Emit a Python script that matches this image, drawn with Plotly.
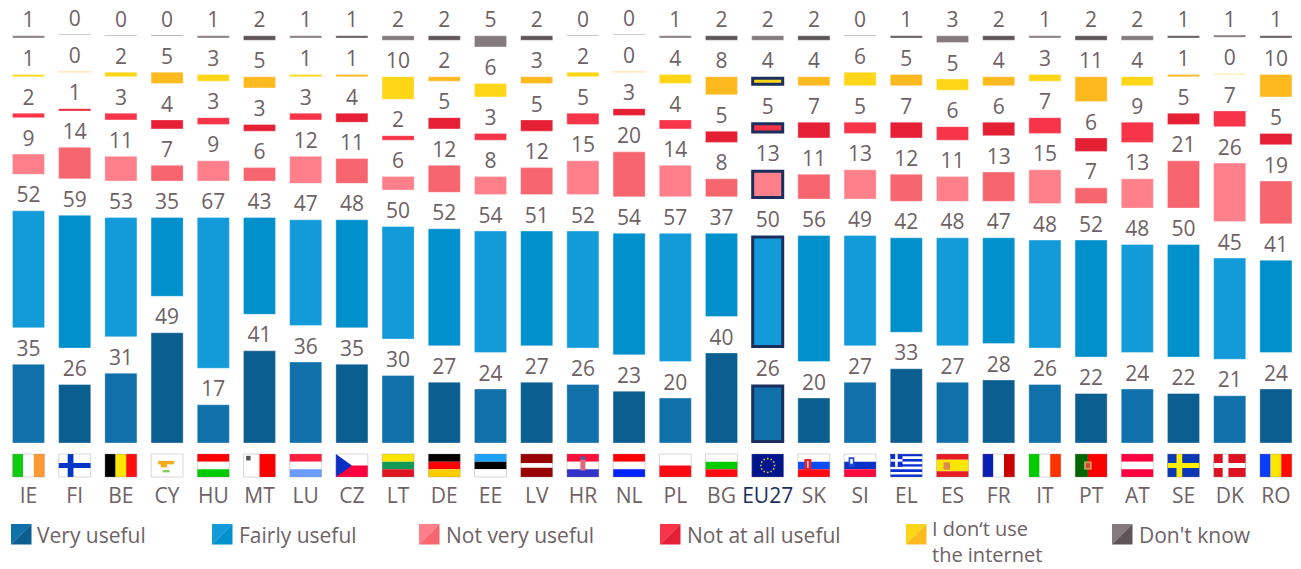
import math
import plotly.graph_objects as go

countries = ["IE","FI","BE","CY","HU","MT","LU","CZ","LT","DE","EE","LV","HR","NL","PL","BG","EU27","SK","SI","EL","ES","FR","IT","PT","AT","SE","DK","RO"]
very_useful = [35,26,31,49,17,41,36,35,30,27,24,27,26,23,20,40,26,20,27,33,27,28,26,22,24,22,21,24]
fairly_useful = [52,59,53,35,67,43,47,48,50,52,54,51,52,54,57,37,50,56,49,42,48,47,48,52,48,50,45,41]
not_very_useful = [9,14,11,7,9,6,12,11,6,12,8,12,15,20,14,8,13,11,13,12,11,13,15,7,13,21,26,19]
not_at_all_useful = [2,1,3,4,3,3,3,4,2,5,3,5,5,3,4,5,5,7,5,7,6,6,7,6,9,5,7,5]
no_internet = [1,0,2,5,3,5,1,1,10,2,6,3,2,0,4,8,4,4,6,5,5,4,3,11,4,1,0,10]
dont_know = [1,0,0,0,1,2,1,1,2,2,5,2,0,0,1,2,2,2,0,1,3,2,1,2,2,1,1,1]

series = [
    ("Very useful", very_useful, "#0f70aa", "#0b5e90", 35.5, 11, True),
    ("Fairly useful", fairly_useful, "#129bd8", "#0090cc", 237.5, 212, True),
    ("Not very useful", not_very_useful, "#ff808a", "#f7666f", 444.5, 419, True),
    ("Not at all useful", not_at_all_useful, "#f83448", "#e62034", 685.5, 660, True),
    ("I don‘t use<br>the internet", no_internet, "#ffd617", "#fdb91e", 930.5, 906, True),
    ("Don't know", dont_know, "#857a7d", "#5f5559", 1137.5, 1112, False),
]

W, H, BASE_PX, UNIT_PX, STEP_PX, FIRST_PX = 1301, 569, 443, 2.25, 46.2, 28.5
GAP = 16.2
LABEL_LIFT = 1.4
TEXT = "#6e6265"
NAVY = "#1c2f5c"
FONT = "Open Sans"
EU = countries.index("EU27")
n = len(countries)
INSET = 1.5 / UNIT_PX

def paper_x(p):
    return p / W

def paper_y(p):
    return (BASE_PX - p) / BASE_PX

fig = go.Figure()
bottom = [0.0] * n
for name, values, c1, c2, _, _, eu_outlined in series:
    colors = [c1 if i % 2 == 0 else c2 for i in range(n)]
    drawn = [max(v, 0.3) for v in values]
    tops = [b + d for b, d in zip(bottom, drawn)]
    is_eu = [i == EU and eu_outlined for i in range(n)]
    outline = [NAVY if e else "rgba(255,255,255,0.35)" for e in is_eu]
    lw = [3 if e else 1 for e in is_eu]
    widths = [0.65 if e else 0.695 for e in is_eu]
    bar_y = [d - 2 * INSET if e else d for d, e in zip(drawn, is_eu)]
    bar_base = [b + INSET if e else b for b, e in zip(bottom, is_eu)]
    fig.add_bar(x=list(range(n)), y=bar_y, base=bar_base, width=widths, name=name.replace("<br>", " "),
                marker=dict(color=colors, line=dict(color=outline, width=lw)),
                showlegend=False, hoverinfo="skip")
    fig.add_scatter(x=list(range(n)), y=[t + LABEL_LIFT for t in tops], mode="text", text=[str(v) for v in values],
                    textposition="top center", textfont=dict(family=FONT, size=21, color=TEXT),
                    showlegend=False, hoverinfo="skip", cliponaxis=False)
    bottom = [t + GAP for t in tops]

shapes = []
FT, FB, FH = 454, 477, 0.345

def frect(i, x0, x1, y0, y1, color):
    """Rectangle inside flag i, in fractions of the flag (origin top-left)."""
    l = i - FH
    w = 2 * FH
    shapes.append(dict(type="rect", xref="x", yref="paper", x0=l + x0 * w, x1=l + x1 * w,
                       y0=paper_y(FT + y0 * (FB - FT)), y1=paper_y(FT + y1 * (FB - FT)),
                       fillcolor=color, line=dict(width=0), layer="above"))

def stripes(code, direction, parts):
    i = countries.index(code)
    total = sum(w for _, w in parts)
    pos = 0
    for color, w in parts:
        a, b = pos / total, (pos + w) / total
        if direction == "h":
            frect(i, 0, 1, a, b, color)
        else:
            frect(i, a, b, 0, 1, color)
        pos += w

def eq(*colors):
    return [(c, 1) for c in colors]

WHITE = "#ffffff"
flags_v = {"IE": ["#10cc10", WHITE, "#ff9933"], "BE": ["#000000", "#ffe600", "#ff0f0f"],
           "FR": ["#0a1eb4", WHITE, "#cc0000"], "IT": ["#00cc00", WHITE, "#ff3300"],
           "RO": ["#0a3cff", "#ffe600", "#ff0a00"], "MT": [WHITE, "#ff0000"]}
flags_h = {"HU": ["#ff0000", WHITE, "#00cc00"], "LU": ["#ff2040", WHITE, "#6c9cff"],
           "CZ": [WHITE, "#ff0040"], "LT": ["#ffe600", "#0f9a55", "#dc1520"],
           "DE": ["#000000", "#ff0000", "#ffcc00"], "EE": ["#1ea0ff", "#000000", WHITE],
           "HR": ["#ff0f3c", WHITE, "#3333cc"], "NL": ["#ff0000", WHITE, "#0022ff"],
           "PL": [WHITE, "#ff0a14"], "BG": [WHITE, "#00cc00", "#ff0a14"],
           "SK": [WHITE, "#0a4bff", "#ff0a14"], "SI": [WHITE, "#0a32c8", "#ff0a3c"],
           "AT": ["#ff0040", WHITE, "#ff0040"]}
for k, v in flags_v.items():
    stripes(k, "v", eq(*v))
for k, v in flags_h.items():
    stripes(k, "h", eq(*v))
stripes("LV", "h", [("#990000", 2), (WHITE, 1), ("#990000", 2)])
stripes("ES", "h", [("#e81c24", 1), ("#ffe600", 2), ("#e81c24", 1)])
stripes("PT", "v", [("#006600", 2), ("#ff0000", 3)])
stripes("CY", "h", [(WHITE, 1)])
stripes("EU27", "h", [("#00148c", 1)])

# crosses
for code, bg, cross, cx in [("FI", WHITE, "#0035c8", 0.37), ("SE", "#0a37b4", "#ffee00", 0.37), ("DK", "#dd1122", WHITE, 0.37)]:
    i = countries.index(code)
    frect(i, 0, 1, 0, 1, bg)
    frect(i, cx - 0.09, cx + 0.09, 0, 1, cross)
    frect(i, 0, 1, 0.39, 0.61, cross)

# Greece
i = countries.index("EL")
for s in range(9):
    frect(i, 0, 1, s / 9, (s + 1) / 9, "#0a2fd0" if s % 2 == 0 else WHITE)
frect(i, 0, 0.38, 0, 5 / 9, "#0a2fd0")
frect(i, 0.15, 0.23, 0, 5 / 9, WHITE)
frect(i, 0, 0.38, 2 / 9, 3 / 9, WHITE)

# Czech triangle
i = countries.index("CZ")
shapes.append(dict(type="path", xref="paper", yref="paper", layer="above", line=dict(width=0), fillcolor="#0b2fc4",
                   path="M {a},{t} L {b},{m} L {a},{u} Z".format(
                       a=paper_x(FIRST_PX + STEP_PX * i - 16), b=paper_x(FIRST_PX + STEP_PX * i),
                       t=paper_y(FT), m=paper_y((FT + FB) / 2), u=paper_y(FB))))

# Small emblems
frect(countries.index("HR"), 0.42, 0.58, 0.22, 0.72, "#e06a80")
frect(countries.index("HR"), 0.42, 0.58, 0.1, 0.25, "#5a5a9a")
frect(countries.index("SK"), 0.2, 0.42, 0.22, 0.72, "#e8202c")
frect(countries.index("SK"), 0.29, 0.33, 0.3, 0.6, WHITE)
frect(countries.index("SI"), 0.14, 0.32, 0.14, 0.55, "#1f4fd0")
frect(countries.index("SI"), 0.19, 0.27, 0.22, 0.42, WHITE)
frect(countries.index("ES"), 0.22, 0.42, 0.36, 0.68, "#d98a50")
frect(countries.index("PT"), 0.28, 0.52, 0.32, 0.68, "#c8a050")
frect(countries.index("PT"), 0.34, 0.46, 0.4, 0.6, "#d04040")
frect(countries.index("MT"), 0.08, 0.22, 0.08, 0.28, "#555555")

# Cyprus
i = countries.index("CY")
frect(i, 0.22, 0.72, 0.3, 0.45, "#f6aa1c")
frect(i, 0.3, 0.5, 0.42, 0.58, "#f6aa1c")
frect(i, 0.36, 0.58, 0.7, 0.8, "#7bcf5a")

# EU stars
i = countries.index("EU27")
for s in range(12):
    a = s * math.pi / 6
    cx, cy = 0.5 + 0.3 * math.cos(a) * 23 / 32, 0.5 + 0.3 * math.sin(a)
    frect(i, cx - 0.025, cx + 0.025, cy - 0.035, cy + 0.035, "#d8c840")

# flag outlines
for i in range(n):
    shapes.append(dict(type="rect", xref="x", yref="paper", x0=i - FH, x1=i + FH, y0=paper_y(FT), y1=paper_y(FB),
                       line=dict(color="rgba(150,135,135,0.35)", width=1), fillcolor="rgba(0,0,0,0)", layer="above"))

# Legend
annotations = []
for name, _, c1, c2, tx, sx, _ in series:
    x0, x1 = paper_x(sx), paper_x(sx + 20.5)
    y0, y1 = paper_y(524), paper_y(544.5)
    shapes.append(dict(type="path", xref="paper", yref="paper", fillcolor=c1, line=dict(width=0),
                       path=f"M {x0},{y1} L {x1},{y0} L {x0},{y0} Z"))
    shapes.append(dict(type="path", xref="paper", yref="paper", fillcolor=c2, line=dict(width=0),
                       path=f"M {x0},{y1} L {x1},{y1} L {x1},{y0} Z"))
    two_lines = "<br>" in name
    annotations.append(dict(text=name, xref="paper", yref="paper", x=paper_x(tx),
                            y=paper_y(568.5 if two_lines else 535),
                            xanchor="left", yanchor="bottom" if two_lines else "middle",
                            align="left", showarrow=False, borderpad=0,
                            font=dict(family=FONT, size=20 if two_lines else 21, color=TEXT)))

ticktext = [f'<span style="color:{NAVY}">{c}</span>' if c == "EU27" else c for c in countries]
fig.update_layout(
    width=W, height=H, margin=dict(l=0, r=0, t=0, b=H - BASE_PX), paper_bgcolor="white", plot_bgcolor="white",
    barmode="overlay", shapes=shapes, annotations=annotations, showlegend=False,
    font=dict(family=FONT, color=TEXT),
    xaxis=dict(range=[-FIRST_PX / STEP_PX, (W - FIRST_PX) / STEP_PX], tickmode="array",
               tickvals=list(range(n)), ticktext=ticktext, showgrid=False, zeroline=False, showline=False,
               ticks="outside", ticklen=34, tickcolor="rgba(0,0,0,0)", tickfont=dict(family=FONT, size=21, color=TEXT)),
    yaxis=dict(range=[0, BASE_PX / UNIT_PX], visible=False),
)
fig.write_html("out.html", config={"displayModeBar": False}, post_script="document.body.style.margin='0';")
